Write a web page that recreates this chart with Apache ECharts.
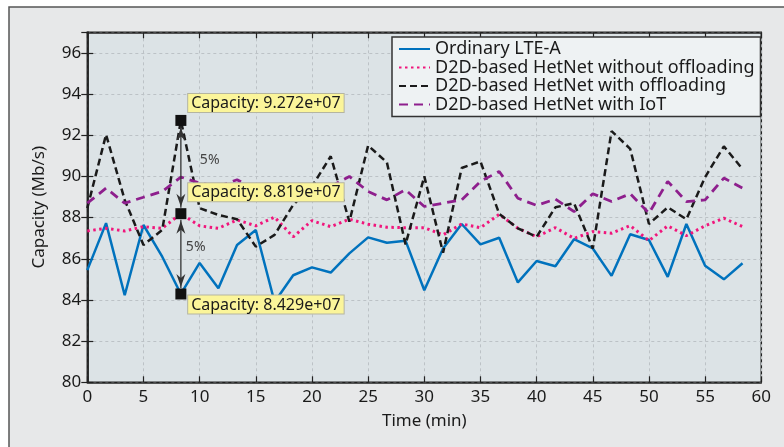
<!DOCTYPE html>
<html>
<head>
<meta charset="utf-8">
<script src="https://cdn.jsdelivr.net/npm/echarts@6/dist/echarts.min.js"></script>
<style>
html,body{margin:0;padding:0;background:#ffffff;}
#chart{width:784px;height:447px;}
</style>
</head>
<body>
<div id="chart"></div>
<script>
// ---- data ----
var timeMin = [0, 1.67, 3.33, 5, 6.67, 8.33, 10, 11.67, 13.33, 15, 16.67, 18.33, 20, 21.67, 23.33, 25, 26.67, 28.33,
  30, 31.67, 33.33, 35, 36.67, 38.33, 40, 41.67, 43.33, 45, 46.67, 48.33, 50, 51.67, 53.33, 55, 56.67, 58.33];
var ordinaryLTE = [85.45, 87.73, 84.23, 87.64, 86.1, 84.29, 85.8, 84.57, 86.67, 87.4, 83.9, 85.2, 85.58, 85.33, 86.26, 87.04, 86.78, 86.88,
  84.47, 86.5, 87.69, 86.7, 87.02, 84.85, 85.89, 85.64, 86.95, 86.5, 85.17, 87.19, 86.91, 85.12, 87.69, 85.66, 85.0, 85.78];
var d2dNoOffload = [87.35, 87.48, 87.35, 87.56, 87.48, 88.19, 87.6, 87.48, 87.89, 87.6, 88.02, 87.07, 87.85, 87.56, 87.92, 87.68, 87.53, 87.51,
  87.51, 87.16, 87.69, 87.51, 88.16, 87.48, 87.07, 87.51, 86.99, 87.32, 87.24, 87.61, 86.88, 87.6, 87.12, 87.6, 87.97, 87.56];
var d2dOffload = [88.46, 92.03, 88.86, 86.67, 87.4, 92.72, 88.46, 88.13, 87.92, 86.59, 87.16, 88.62, 89.51, 90.98, 87.8, 91.5, 90.68, 86.7,
  90.0, 86.29, 90.41, 90.73, 88.18, 87.48, 87.07, 88.5, 88.7, 86.5, 92.2, 91.34, 87.69, 88.5, 87.92, 89.97, 91.46, 90.36];
var d2dIoT = [88.7, 89.43, 88.7, 88.99, 89.27, 89.97, 89.68, 89.51, 89.84, 89.35, 89.43, 89.1, 89.6, 89.51, 90.0, 89.27, 88.86, 89.35,
  88.54, 88.7, 88.86, 89.76, 90.24, 88.94, 88.59, 88.9, 88.29, 89.16, 88.78, 89.16, 88.21, 89.76, 88.78, 88.86, 89.92, 89.43];
var seriesNames = ['Ordinary LTE-A', 'D2D-based HetNet without offloading', 'D2D-based HetNet with offloading', 'D2D-based HetNet with IoT'];
var xTicks = [0, 5, 10, 15, 20, 25, 30, 35, 40, 45, 50, 55, 60];
var yTicks = [80, 82, 84, 86, 88, 90, 92, 94, 96];
// data tips
var tipX = [8.33, 8.33, 8.33];
var tipY = [92.72, 88.19, 84.29];
var tipText = ['Capacity: 9.272e+07', 'Capacity: 8.819e+07', 'Capacity: 8.429e+07'];
var gapText = ['5%', '5%'];

function pairs(ys){ return ys.map(function(v,i){ return [timeMin[i], v]; }); }

var FONT = 'Noto Sans';
var chart = echarts.init(document.getElementById('chart'), null, {renderer:'canvas'});

var labelOffsets = [[12.8, -21], [12.8, -25], [12.8, 7]];
var markPts = tipX.map(function(x, i){
  return {
    coord: [x, tipY[i]],
    symbol: 'rect', symbolSize: 11,
    itemStyle: {color: '#111111'},
    label: {
      show: true, formatter: tipText[i], position: labelOffsets[i],
      align: 'left', verticalAlign: 'top',
      fontFamily: FONT, fontSize: 16, color: '#1a1a1a',
      backgroundColor: '#fbf59a', borderColor: '#b5b5a0', borderWidth: 1,
      padding: [1, 3, 0, 3], lineHeight: 17
    }
  };
});
var gapOffsets = [[19, -14], [5, -14]];
gapText.forEach(function(t, i){
  markPts.push({
    coord: [tipX[i], (tipY[i] + tipY[i+1]) / 2],
    symbol: 'circle', symbolSize: 0,
    label: {show: true, formatter: t, position: gapOffsets[i], align: 'left', verticalAlign: 'top',
      fontFamily: FONT, fontSize: 14, color: '#444444'}
  });
});

var option = {
  animation: false,
  backgroundColor: '#ffffff',
  graphic: [{
    id: 'frame', type: 'rect', z: -10, silent: true,
    shape: {x: 9, y: 7, width: 800, height: 460},
    style: {fill: '#e7e8e9', stroke: '#555555', lineWidth: 1.5}
  }],
  grid: {left: 87.3, right: 22.7, top: 32.3, bottom: 64.7, show: true,
    backgroundColor: '#dce3e6', borderColor: '#222222', borderWidth: 1.5},
  legend: {
    orient: 'vertical', left: 392, top: 37,
    data: seriesNames,
    backgroundColor: '#eef2f3', borderColor: '#333333', borderWidth: 1.5,
    padding: [3, 6, 3, 6], itemGap: 0.5,
    itemWidth: 31, itemHeight: 14,
    itemStyle: {opacity: 0},
    textStyle: {fontFamily: FONT, fontSize: 18, color: '#1a1a1a', lineHeight: 18}
  },
  xAxis: [{
    type: 'value', min: 0, max: 60, interval: 5,
    name: 'Time (min)', nameLocation: 'middle', nameGap: 30,
    nameTextStyle: {fontFamily: FONT, fontSize: 17, color: '#1a1a1a'},
    axisLine: {show: true, onZero: false, lineStyle: {color: '#222222', width: 1.5}},
    axisTick: {show: true, inside: true, length: 6, lineStyle: {color: '#222222', width: 1.2}},
    axisLabel: {fontFamily: FONT, fontSize: 17, color: '#1a1a1a', margin: 6},
    splitLine: {show: true, lineStyle: {color: '#bcc2c6', type: [3, 3], width: 1}}
  }, {
    type: 'value', min: 0, max: 60, interval: 5, position: 'top',
    axisLine: {show: true, lineStyle: {color: '#222222', width: 1.5}},
    axisTick: {show: true, inside: true, length: 6, lineStyle: {color: '#222222', width: 1.2}},
    axisLabel: {show: false}, splitLine: {show: false}
  }],
  yAxis: [{
    type: 'value', min: 80, max: 97, interval: 2,
    name: 'Capacity (Mb/s)', nameLocation: 'middle', nameGap: 40, nameRotate: 90,
    nameTextStyle: {fontFamily: FONT, fontSize: 17, color: '#1a1a1a'},
    axisLine: {show: true, onZero: false, lineStyle: {color: '#222222', width: 1.5}},
    axisTick: {show: true, inside: true, length: 6, lineStyle: {color: '#222222', width: 1.2}},
    axisLabel: {fontFamily: FONT, fontSize: 17, color: '#1a1a1a', margin: 6, showMaxLabel: false},
    splitLine: {show: true, lineStyle: {color: '#bcc2c6', type: [3, 3], width: 1}}
  }, {
    type: 'value', min: 80, max: 97, interval: 2, position: 'right',
    axisLine: {show: true, lineStyle: {color: '#222222', width: 1.5}},
    axisTick: {show: true, inside: true, length: 6, lineStyle: {color: '#222222', width: 1.2}},
    axisLabel: {show: false}, splitLine: {show: false}
  }],
  series: [
    {name: seriesNames[0], type: 'line', data: pairs(ordinaryLTE), symbol: 'none', z: 3,
      lineStyle: {color: '#0072bd', width: 2.5, type: 'solid'}, itemStyle: {color: '#0072bd'}},
    {name: seriesNames[1], type: 'line', data: pairs(d2dNoOffload), symbol: 'none', z: 3,
      lineStyle: {color: '#f0167c', width: 3, type: [2.5, 3.5]}, itemStyle: {color: '#f0167c'}},
    {name: seriesNames[2], type: 'line', data: pairs(d2dOffload), symbol: 'none', z: 3,
      lineStyle: {color: '#1a1a1a', width: 2.5, type: [7, 4]}, itemStyle: {color: '#1a1a1a'}},
    {name: seriesNames[3], type: 'line', data: pairs(d2dIoT), symbol: 'none', z: 3,
      lineStyle: {color: '#8e1f8d', width: 2.8, type: [9, 6]}, itemStyle: {color: '#8e1f8d'}},
    {name: 'annotations', type: 'line', data: [], z: 10, silent: true,
      markPoint: {silent: true, animation: false, data: markPts}
    }
  ]
};
chart.setOption(option);

// arrows between data tips, positioned through the chart's own scales
(function(){
  var p = tipX.map(function(x, i){ return chart.convertToPixel({gridIndex: 0}, [x, tipY[i]]); });
  var els = [];
  var half = 6, L = 13, W = 4.5, N = 9;
  function head(x, tipYp, dir, id){
    return {id: id, type: 'polygon', z: 9, silent: true,
      shape: {points: [[x, tipYp], [x - W, tipYp - dir * L], [x, tipYp - dir * N], [x + W, tipYp - dir * L]]},
      style: {fill: '#333333'}};
  }
  for (var s = 0; s < 2; s++) {
    var a = p[s], b = p[s + 1];
    els.push({id: 'ln' + s, type: 'line', z: 9, silent: true,
      shape: {x1: a[0], y1: a[1] + half, x2: b[0], y2: b[1] - half},
      style: {stroke: '#333333', lineWidth: 1.3}});
    els.push(head(a[0], a[1] + half + 1, -1, 'hu' + s));
    els.push(head(b[0], b[1] - half - 1, 1, 'hd' + s));
  }
  chart.setOption({graphic: els});
})();
</script>
</body>
</html>
